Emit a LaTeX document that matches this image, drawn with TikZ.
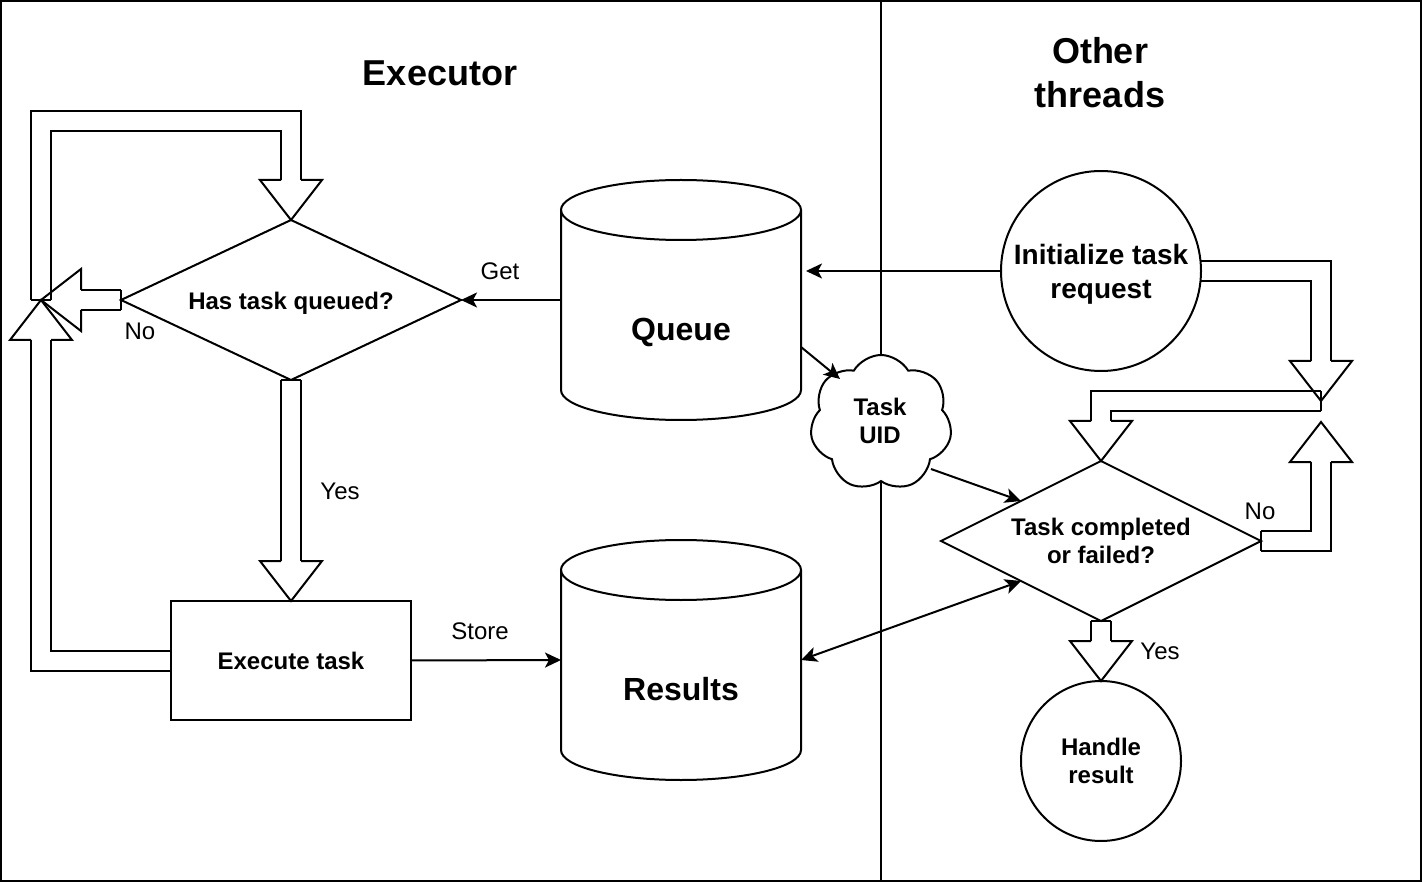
\documentclass[tikz,border=0pt]{standalone}
\usepackage{fontspec}
\setmainfont{Liberation Sans}
\usetikzlibrary{shapes.geometric,shapes.symbols,arrows.meta,calc}
\newcommand\headdown[1]{\draw[head] ($(#1)+(-10,-40)$) -- ($(#1)+(-31,-40)$) -- (#1) -- ($(#1)+(31,-40)$) -- ($(#1)+(10,-40)$);}
\newcommand\headup[1]{\draw[head] ($(#1)+(-10,40)$) -- ($(#1)+(-31,40)$) -- (#1) -- ($(#1)+(31,40)$) -- ($(#1)+(10,40)$);}
\newcommand\headleft[1]{\draw[head] ($(#1)+(40,-10)$) -- ($(#1)+(40,-31)$) -- (#1) -- ($(#1)+(40,31)$) -- ($(#1)+(40,10)$);}
\begin{document}
\begin{tikzpicture}[x=1pt,y=-1pt,
  every node/.style={inner sep=0pt, outer sep=0pt},
  lab/.style={font=\fontsize{24}{28}\selectfont, align=center},
  btxt/.style={font=\fontsize{24}{28}\selectfont\bfseries, align=center},
  bigtxt/.style={font=\fontsize{32}{38}\selectfont\bfseries, align=center},
  midtxt/.style={font=\fontsize{28}{34}\selectfont\bfseries, align=center},
  title/.style={font=\fontsize{36}{44}\selectfont\bfseries, align=center},
  box/.style={draw, line width=2pt},
  conn/.style={line width=2pt, -{Stealth[length=16pt,width=15pt,inset=4pt]}},
  biconn/.style={line width=2pt, {Stealth[length=16pt,width=15pt,inset=4pt]}-{Stealth[length=16pt,width=15pt,inset=4pt]}},
  shaft/.style={line width=2pt, double=white, double distance=18pt, line join=miter},
  head/.style={line width=2pt, line join=miter}]

\useasboundingbox (0,0) rectangle (1422,882);

% lanes
\draw[line width=2pt] (1,1) rectangle (1421,881);
\draw[line width=2pt] (881,1) -- (881,881);
\node[title] (t1) at (440,73) {Executor};
\node[title] (t2) at (1100,73) {Other\\threads};

% invisible shape placeholders for anchors
\node[minimum width=340pt, minimum height=160pt, diamond] (d1) at (291,300) {};
\node[minimum width=240pt, minimum height=119pt, rectangle] (ex) at (291,660.5) {};
\node[minimum width=240pt, minimum height=240pt, rectangle] (q) at (681,300) {};
\node[minimum width=240pt, minimum height=240pt, rectangle] (r) at (681,660) {};
\node[circle, minimum size=200pt] (init) at (1101,271) {};
\node[diamond, minimum width=320pt, minimum height=160pt] (d2) at (1101,541) {};
\node[circle, minimum size=160pt] (hr) at (1101,761) {};
\coordinate (lp) at (41,300);
\coordinate (lt) at (41,121);
\coordinate (jn) at (1321,401);
\coordinate (jn2) at (1321,422);

% flex arrow shafts
\draw[shaft] (d1.south) -- ($(ex.north)+(0,-40)$);
\draw[head] ($(d1.south)+(-10,0)$) -- ($(d1.south)+(10,0)$);
\draw[shaft] (lp) -- (lt) -- (lt -| d1.north) -- ($(d1.north)+(0,-40)$);
\draw[head] ($(lp)+(-10,0)$) -- ($(lp)+(10,0)$);
\draw[shaft] (d1.west) -- ($(lp)+(40,0)$);
\draw[head] ($(d1.west)+(0,-10)$) -- ($(d1.west)+(0,10)$);
\draw[shaft] (ex.west) -- (ex.west -| lp) -- ($(lp)+(0,40)$);
\draw[shaft] (init.east) -- (init.east -| jn) -- ($(jn)+(0,-40)$);
\draw[shaft] (jn) -- (jn -| d2.north) -- ($(d2.north)+(0,-40)$);
\draw[head] ($(jn)+(0,-10)$) -- ($(jn)+(0,10)$);
\draw[shaft] (d2.east) -- (d2.east -| jn2) -- ($(jn2)+(0,40)$);
\draw[head] ($(d2.east)+(0,-10)$) -- ($(d2.east)+(0,10)$);
\draw[shaft] (d2.south) -- ($(hr.north)+(0,-40)$);
\draw[head] ($(d2.south)+(-10,0)$) -- ($(d2.south)+(10,0)$);

% shapes
\node[diamond, box, minimum width=340pt, minimum height=160pt] at (d1) {};
\node[rectangle, box, minimum width=240pt, minimum height=119pt] at (ex) {};
\draw[box] ($(q.north west)+(0,30)$) -- ($(q.south west)+(0,-30)$) arc[start angle=180,end angle=360,x radius=120pt,y radius=30pt] -- ($(q.north east)+(0,30)$);
\draw[box] ($(q.north)+(0,30)$) ellipse [x radius=120pt, y radius=30pt];
\draw[box] ($(r.north west)+(0,30)$) -- ($(r.south west)+(0,-30)$) arc[start angle=180,end angle=360,x radius=120pt,y radius=30pt] -- ($(r.north east)+(0,30)$);
\draw[box] ($(r.north)+(0,30)$) ellipse [x radius=120pt, y radius=30pt];
\node[circle, box, minimum size=200pt] at (init) {};
\node[cloud, box, fill=white, cloud puffs=7, cloud puff arc=120, aspect=1, minimum width=142pt, minimum height=136pt] (uid) at (881,423) {};
\node[diamond, box, minimum width=320pt, minimum height=160pt] at (d2) {};
\node[circle, box, minimum size=160pt] at (hr) {};

% flex arrow heads
\headdown{ex.north}
\headdown{d1.north}
\headleft{lp}
\headup{lp}
\headdown{jn}
\headdown{d2.north}
\headup{jn2}
\headdown{hr.north}

% connectors
\coordinate (qin) at (806,271);
\coordinate (qout) at (801,347);
\coordinate (uidin) at (840,379);
\coordinate (uidout) at (931,469);
\draw[conn] (q.west) -- (d1.east);
\draw[conn] (init.west) -- (qin);
\draw[conn] (qout) -- (uidin);
\draw[conn] (uidout) -- ($(d2.west)!0.5!(d2.north)$);
\draw[conn] (ex.east) -- (r.west);
\draw[biconn] (r.east) -- ($(d2.west)!0.5!(d2.south)$);

% texts
\node[btxt] at ($(d1)+(0,3)$) {Has task queued?};
\node[btxt] at (ex) {Execute task};
\node[bigtxt] at (681,332) {Queue};
\node[bigtxt] at (681,689) {Results};
\node[midtxt] at ($(init)+(0,3)$) {Initialize task\\request};
\node[btxt] at ($(uid)+(-1,-2)$) {Task\\UID};
\node[btxt] at (d2) {Task completed\\or failed?};
\node[btxt] at (hr) {Handle\\result};
\node[lab] at (500,271) {Get};
\node[lab] at (140,331) {No};
\node[lab] at (340,491) {Yes};
\node[lab] at (480,631) {Store};
\node[lab] at (1260,511) {No};
\node[lab] at (1160,651) {Yes};
\end{tikzpicture}
\end{document}
